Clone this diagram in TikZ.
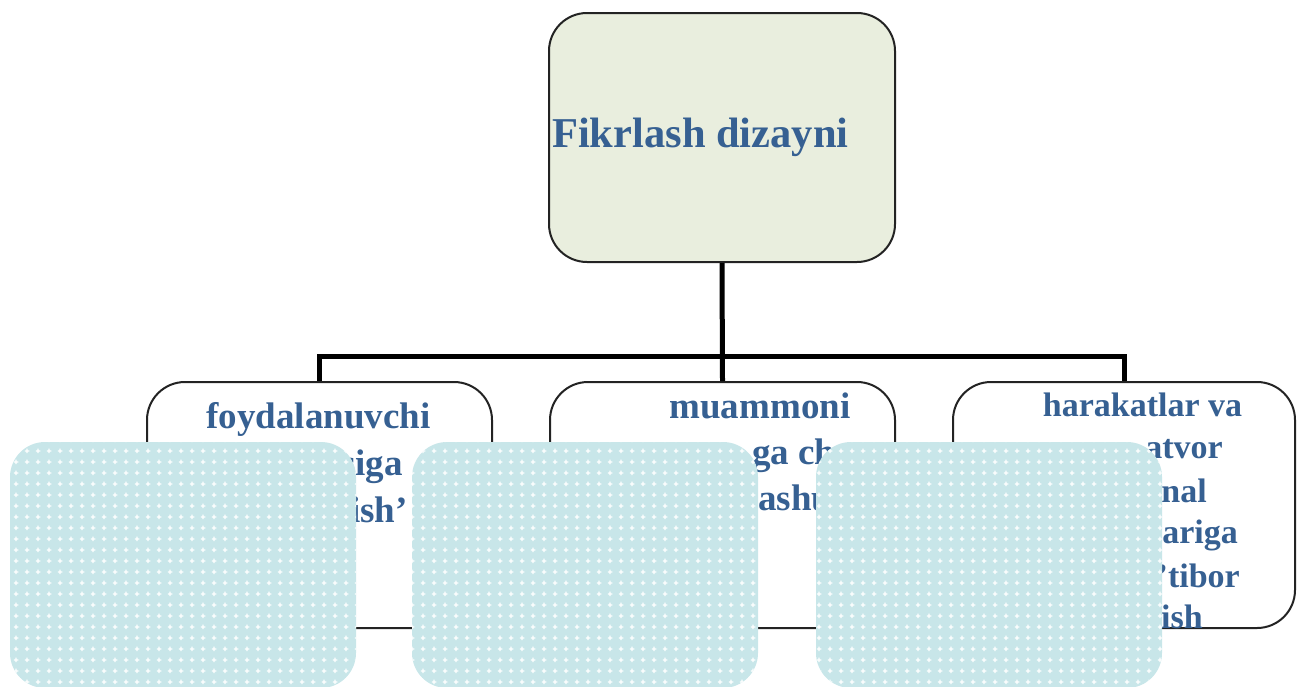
\documentclass[tikz,border=0pt]{standalone}
\usepackage{fontspec}
\setmainfont{Liberation Serif}
\usetikzlibrary{patterns}
\definecolor{txtblue}{RGB}{54,96,146}
\definecolor{topfill}{RGB}{233,238,222}
\definecolor{boxline}{RGB}{35,35,35}
\definecolor{ovcol}{RGB}{200,230,233}
\pgfdeclarepatternformonly{plusgrid}{\pgfpointorigin}{\pgfpoint{11pt}{11pt}}{\pgfpoint{11pt}{11pt}}{%
  \pgfsetlinewidth{1.3pt}%
  \pgfpathmoveto{\pgfpoint{3pt}{5.5pt}}\pgfpathlineto{\pgfpoint{8pt}{5.5pt}}%
  \pgfpathmoveto{\pgfpoint{5.5pt}{3pt}}\pgfpathlineto{\pgfpoint{5.5pt}{8pt}}%
  \pgfusepath{stroke}}
\tikzset{
  boxA/.style={draw=boxline, line width=2pt, rounded corners=38pt, inner sep=0pt},
  conn/.style={draw=black, line width=5pt, line join=miter},
  lblA/.style={text=txtblue, font=\fontsize{37}{47}\selectfont\bfseries, inner sep=0pt},
  lblB/.style={text=txtblue, font=\fontsize{34}{42}\selectfont\bfseries, inner sep=0pt},
  lblT/.style={text=txtblue, font=\fontsize{42.5}{50}\selectfont\bfseries, inner sep=0pt},
  cover/.style={draw=none, rounded corners=35pt, inner sep=0pt,
    preaction={fill=ovcol}, pattern=plusgrid, pattern color=white}
}
\begin{document}
\begin{tikzpicture}[x=1pt,y=-1pt]
\useasboundingbox (0,0) rectangle (1297,686);
% boxes
\node[boxA, fill=topfill, minimum width=346pt, minimum height=249pt] (top) at (722,137.5) {};
\node[boxA, fill=white, minimum width=345pt, minimum height=246pt] (b1) at (319.5,505) {};
\node[boxA, fill=white, minimum width=345pt, minimum height=246pt] (b2) at (722.5,505) {};
\node[boxA, fill=white, minimum width=342pt, minimum height=246pt] (b3) at (1124,505) {};
% connectors
\coordinate (j) at (722.5,356);
\draw[conn] (top.south) -- (b2.north);
\draw[conn] (b1.north) |- (j) -| (b3.north);
% texts
\node[lblT, anchor=base west] (tt) at (552,147) {Fikrlash dizayni};
\node[lblA, anchor=base] (t11) at (318.5,428) {foydalanuvchi};
\node[lblA, anchor=base east] (t12) at (403,475) {siga};
\node[lblA, anchor=base east] (t13) at (408,522) {ish’};
\node[lblA, anchor=base] (t21) at (760,418) {muammoni};
\node[lblA, anchor=base west] (t22) at (752,464) {ga cho};
\node[lblA, anchor=base west] (t23) at (758,510) {ashu};
\node[lblB, anchor=base] (t31) at (1142.5,416) {harakatlar va};
\node[lblB, anchor=base east] (t32) at (1223,458) {atvor};
\node[lblB, anchor=base east] (t33) at (1207,502) {nal};
\node[lblB, anchor=base east] (t34) at (1238,543) {ariga};
\node[lblB, anchor=base east] (t35) at (1240,587) {’tibor};
\node[lblB, anchor=base east] (t36) at (1203,628) {ish};
% overlays
\node[cover, minimum width=346pt, minimum height=246pt] (c1) at (183,565) {};
\node[cover, minimum width=346pt, minimum height=246pt] (c2) at (585,565) {};
\node[cover, minimum width=346pt, minimum height=246pt] (c3) at (989,565) {};
\end{tikzpicture}
\end{document}
